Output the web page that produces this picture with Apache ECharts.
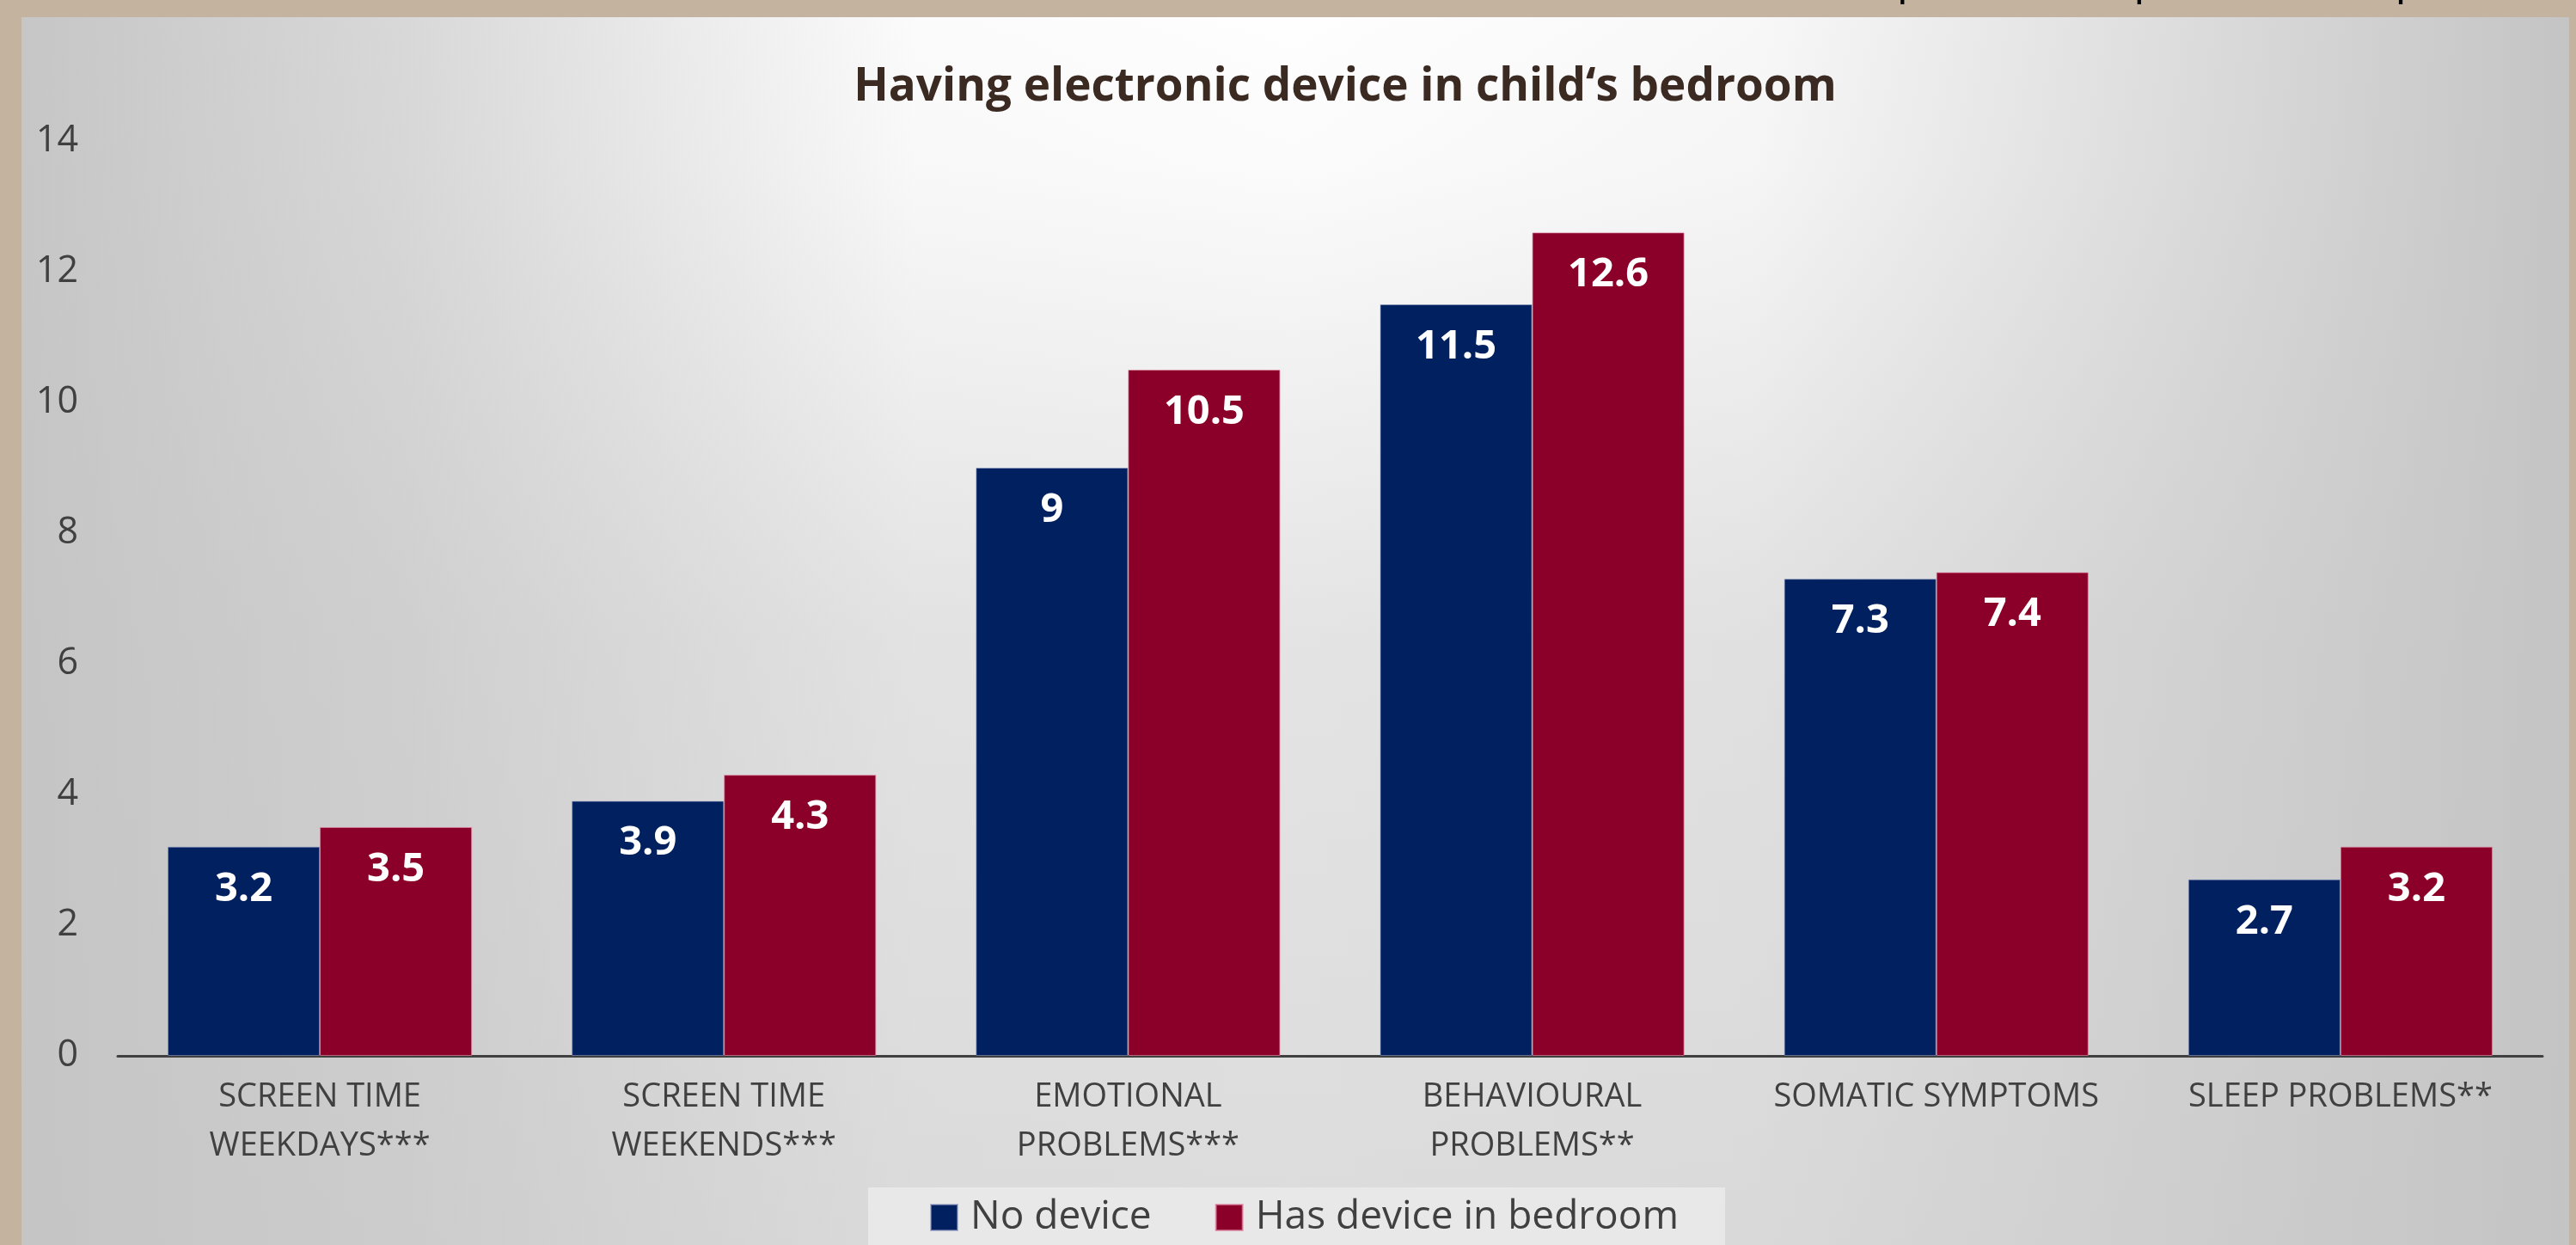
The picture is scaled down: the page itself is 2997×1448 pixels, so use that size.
<!DOCTYPE html>
<html>
<head>
<meta charset="utf-8">
<script src="https://cdn.jsdelivr.net/npm/echarts@6/dist/echarts.min.js"></script>
<style>
html,body{margin:0;padding:0;background:#c4b39e;}
#c{width:2997px;height:1448px;}
</style>
</head>
<body>
<div id="c"></div>
<script>
const titleText = "Having electronic device in child\u2018s bedroom";
const categories = [
  "SCREEN TIME\nWEEKDAYS***",
  "SCREEN TIME\nWEEKENDS***",
  "EMOTIONAL\nPROBLEMS***",
  "BEHAVIOURAL\nPROBLEMS**",
  "SOMATIC SYMPTOMS",
  "SLEEP PROBLEMS**"
];
const seriesNames = ["No device", "Has device in bedroom"];
const noDevice = [3.2, 3.9, 9, 11.5, 7.3, 2.7];
const hasDevice = [3.5, 4.3, 10.5, 12.6, 7.4, 3.2];
const yTicks = { min: 0, max: 14, interval: 2 };
const noteText = "*p < 0.05, **p < 0.01, ***p < 0.001";

const FONT = "'Open Sans', 'Noto Sans', sans-serif";
const chart = echarts.init(document.getElementById('c'), null, { renderer: 'canvas' });

const barLabel = {
  show: true,
  position: 'insideTop',
  distance: 26,
  color: '#ffffff',
  fontFamily: FONT,
  fontWeight: 'bold',
  fontSize: 47
};

chart.setOption({
  backgroundColor: '#c4b39e',
  animation: false,
  graphic: [
    {
      type: 'rect', z: -10, silent: true,
      shape: { x: 25, y: 20, width: 2964, height: 1440 },
      style: {
        fill: new echarts.graphic.LinearGradient(0, 0, 1, 0, [
          { offset: 0, color: '#c6c6c6' },
          { offset: 0.15, color: '#d8d8d8' },
          { offset: 0.35, color: '#fbfbfb' },
          { offset: 0.5, color: '#fefefe' },
          { offset: 0.68, color: '#f8f8f8' },
          { offset: 0.85, color: '#dcdcdc' },
          { offset: 1, color: '#c4c4c4' }
        ])
      }
    },
    {
      type: 'rect', z: -9, silent: true,
      shape: { x: 25, y: 20, width: 2964, height: 1440 },
      style: {
        fill: new echarts.graphic.LinearGradient(0, 0, 0, 1, [
          { offset: 0, color: 'rgba(196,196,196,0)' },
          { offset: 0.12, color: 'rgba(196,196,196,0.05)' },
          { offset: 0.5, color: 'rgba(196,196,196,0.45)' },
          { offset: 1, color: 'rgba(196,196,196,0.6)' }
        ])
      }
    },
    {
      type: 'text', z: -8, silent: true,
      style: {
        text: noteText, x: 2178, y: -48,
        fill: '#000000', font: '52px ' + FONT,
        textAlign: 'left', textVerticalAlign: 'top'
      }
    },
    {
      type: 'text', silent: true,
      style: {
        text: titleText, x: 1565, y: 102,
        fill: '#3b2a22', font: 'bold 53px ' + FONT,
        textAlign: 'center', textVerticalAlign: 'middle'
      }
    }
  ],
  grid: { left: 137, right: 39, top: 164, bottom: 220, containLabel: false },
  legend: {
    data: seriesNames,
    left: 1010,
    top: 1381,
    orient: 'horizontal',
    itemWidth: 31,
    itemHeight: 30,
    itemGap: 74,
    padding: [12, 54, 40, 72],
    backgroundColor: 'rgba(236,236,236,0.75)',
    textStyle: { fontFamily: FONT, fontSize: 46, color: '#404040', padding: [0, 0, 0, 10] },
    icon: 'rect'
  },
  xAxis: {
    type: 'category',
    data: categories,
    axisLine: { show: true, lineStyle: { color: '#404040', width: 3 } },
    axisTick: { show: false },
    axisLabel: {
      interval: 0, margin: 20,
      fontFamily: FONT, fontSize: 38, color: '#404040', lineHeight: 57
    }
  },
  yAxis: {
    type: 'value',
    min: yTicks.min, max: yTicks.max, interval: yTicks.interval,
    axisLine: { show: false },
    axisTick: { show: false },
    splitLine: { show: false },
    axisLabel: { margin: 46, fontFamily: FONT, fontSize: 43, color: '#404040' }
  },
  series: [
    {
      name: seriesNames[0], type: 'bar', data: noDevice,
      barGap: '0%', barCategoryGap: '24.7%',
      itemStyle: { color: '#002060', borderColor: 'rgba(140,150,190,0.6)', borderWidth: 1 },
      label: barLabel
    },
    {
      name: seriesNames[1], type: 'bar', data: hasDevice,
      barGap: '0%', barCategoryGap: '24.7%',
      itemStyle: { color: '#8b0029', borderColor: 'rgba(220,130,160,0.7)', borderWidth: 1 },
      label: barLabel
    }
  ]
});
</script>
</body>
</html>
